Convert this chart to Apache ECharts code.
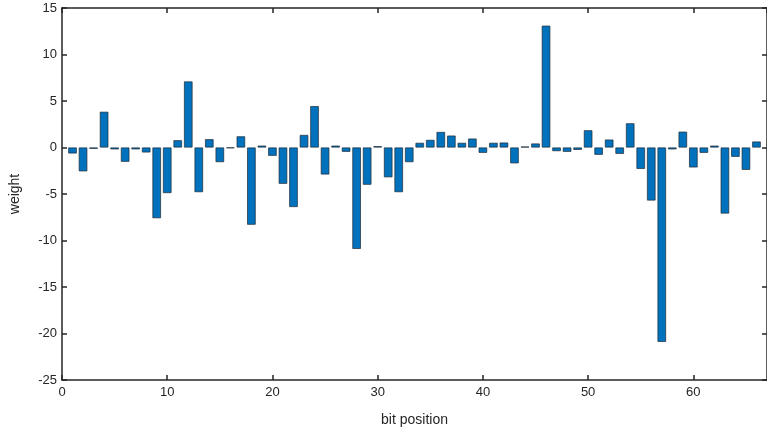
<!DOCTYPE html>
<html>
<head>
<meta charset="utf-8">
<script src="https://cdn.jsdelivr.net/npm/echarts@6/dist/echarts.min.js"></script>
<style>
	html, body { margin: 0; padding: 0; background: #fff; }
	#chart { width: 767px; height: 432px; }
</style>
</head>
<body>
<div id="chart"></div>
<script>
// bit positions 1..66 and their weights
var positions = [];
for (var i = 1; i <= 66; i++) positions.push(i);

var weights = [
	-0.64, -2.56, -0.14, 3.84, -0.2, -1.53, -0.2, -0.53, -7.6, -4.9,
	0.78, 7.1, -4.8, 0.89, -1.57, -0.07, 1.2, -8.3, 0.2, -0.89,
	-3.9, -6.4, 1.35, 4.45, -2.9, 0.2, -0.46, -10.9, -4.0, 0.14,
	-3.2, -4.8, -1.57, 0.5, 0.82, 1.67, 1.28, 0.5, 0.96, -0.57,
	0.5, 0.53, -1.7, 0.1, 0.43, 13.1, -0.39, -0.46, -0.25, 1.85,
	-0.78, 0.85, -0.68, 2.6, -2.3, -5.7, -20.9, -0.2, 1.7, -2.14,
	-0.57, 0.2, -7.1, -1.0, -2.4, 0.64
];

var xTicks = [0, 67, 10];   // min, max, interval
var yTicks = [-25, 15, 5];

var barData = positions.map(function (p, k) { return [p, weights[k]]; });

var axisColor = '#262626';
var font = 'Liberation Sans, Arial, sans-serif';

var chart = echarts.init(document.getElementById('chart'));

var tickStyle = { show: true, inside: true, length: 5, lineStyle: { color: axisColor, width: 1.5 } };
var lineStyle = { show: true, onZero: false, lineStyle: { color: axisColor, width: 1.5 } };

chart.setOption({
	animation: false,
	textStyle: { fontFamily: font },
	grid: { left: 56, right: -1, top: 8, bottom: 52, containLabel: false },
	xAxis: [{
		type: 'value',
		position: 'bottom',
		min: xTicks[0], max: xTicks[1], interval: xTicks[2],
		name: 'bit position',
		nameLocation: 'middle',
		nameGap: 33,
		nameTextStyle: { color: axisColor, fontSize: 14, fontFamily: font },
		axisLine: lineStyle,
		axisTick: tickStyle,
		axisLabel: { color: axisColor, fontSize: 13, margin: 6, showMaxLabel: false },
		splitLine: { show: false }
	}, {
		type: 'value',
		position: 'top',
		min: xTicks[0], max: xTicks[1], interval: xTicks[2],
		axisLine: lineStyle,
		axisTick: tickStyle,
		axisLabel: { show: false },
		splitLine: { show: false }
	}],
	yAxis: [{
		type: 'value',
		position: 'left',
		min: yTicks[0], max: yTicks[1], interval: yTicks[2],
		name: 'weight',
		nameLocation: 'middle',
		nameGap: 40,
		nameTextStyle: { color: axisColor, fontSize: 14, fontFamily: font },
		axisLine: lineStyle,
		axisTick: tickStyle,
		axisLabel: { color: axisColor, fontSize: 13, margin: 5 },
		splitLine: { show: false }
	}, {
		type: 'value',
		position: 'right',
		min: yTicks[0], max: yTicks[1], interval: yTicks[2],
		axisLine: lineStyle,
		axisTick: tickStyle,
		axisLabel: { show: false },
		splitLine: { show: false }
	}],
	series: [{
		type: 'bar',
		xAxisIndex: 0,
		yAxisIndex: 0,
		barWidth: 8.5,
		data: barData,
		itemStyle: {
			color: '#0072BD',
			borderColor: '#1f2a33',
			borderWidth: 0.7
		}
	}]
});
</script>
</body>
</html>
